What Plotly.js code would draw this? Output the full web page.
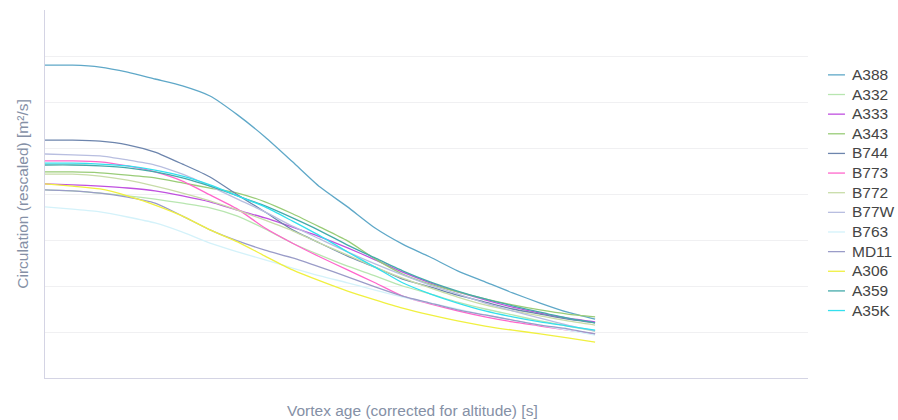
<!DOCTYPE html>
<html>
<head>
<meta charset="utf-8">
<script src="https://cdn.plot.ly/plotly-3.0.1.min.js"></script>
<style>html,body{margin:0;padding:0;background:#fff;}#chart{width:898px;height:420px;}</style>
</head>
<body>
<div id="chart"></div>
<script>
// Vortex age (corrected for altitude) [s]
const age = [0,5,10,15,20,25,30,35,40,45,50,55,60,65,70,75,80,85,90,95,100];

const seriesNames = ["A388","A332","A333","A343","B744","B773","B772","B77W","B763","MD11","A306","A359","A35K"];

const A388 = [6.80,6.80,6.76,6.65,6.50,6.35,6.13,5.72,5.24,4.70,4.15,3.72,3.26,2.91,2.63,2.33,2.09,1.85,1.63,1.43,1.28];
const A332 = [4.09,4.07,4.02,3.96,3.89,3.80,3.70,3.52,3.24,2.93,2.67,2.43,2.22,2.00,1.83,1.65,1.50,1.37,1.24,1.13,1.02];
const A333 = [4.22,4.20,4.17,4.13,4.07,3.96,3.83,3.65,3.48,3.28,3.07,2.83,2.57,2.30,2.07,1.87,1.70,1.54,1.41,1.30,1.22];
const A343 = [4.48,4.48,4.46,4.41,4.35,4.24,4.13,4.02,3.83,3.57,3.28,2.98,2.59,2.26,2.04,1.87,1.72,1.59,1.48,1.39,1.33];
const B744 = [5.17,5.17,5.15,5.07,4.91,4.65,4.37,3.98,3.61,3.22,2.93,2.65,2.41,2.15,1.98,1.80,1.65,1.50,1.39,1.28,1.20];
const B773 = [4.72,4.72,4.70,4.61,4.48,4.28,3.98,3.67,3.26,2.93,2.63,2.35,2.07,1.78,1.61,1.46,1.33,1.22,1.13,1.04,0.96];
const B772 = [4.43,4.43,4.39,4.30,4.17,4.02,3.85,3.65,3.43,3.20,2.93,2.67,2.41,2.17,1.96,1.76,1.59,1.46,1.35,1.24,1.15];
const B77W = [4.87,4.85,4.83,4.74,4.63,4.43,4.17,3.89,3.61,3.30,3.02,2.74,2.48,2.24,2.02,1.83,1.63,1.46,1.30,1.15,1.02];
const B763 = [3.72,3.67,3.61,3.50,3.37,3.17,2.93,2.74,2.57,2.39,2.22,2.07,1.91,1.76,1.63,1.50,1.37,1.26,1.15,1.04,0.93];
const MD11 = [4.09,4.07,4.02,3.93,3.80,3.52,3.22,2.98,2.78,2.61,2.41,2.20,1.98,1.78,1.63,1.48,1.37,1.26,1.15,1.07,0.96];
const A306 = [4.22,4.17,4.11,3.96,3.76,3.52,3.22,2.96,2.65,2.35,2.11,1.89,1.70,1.52,1.37,1.24,1.13,1.04,0.96,0.87,0.78];
const A359 = [4.63,4.63,4.61,4.57,4.48,4.35,4.17,3.96,3.74,3.48,3.20,2.89,2.61,2.33,2.09,1.89,1.72,1.57,1.43,1.30,1.20];
const A35K = [4.67,4.67,4.65,4.61,4.52,4.39,4.20,3.96,3.72,3.41,3.09,2.74,2.41,2.07,1.83,1.63,1.46,1.33,1.22,1.13,1.04];

const seriesValues = {A388,A332,A333,A343,B744,B773,B772,B77W,B763,MD11,A306,A359,A35K};
const colors = {
  A388:"#5fa8c8", A332:"#b8e6b0", A333:"#c050e0", A343:"#99cc77",
  B744:"#6d85ad", B773:"#ff66cc", B772:"#c8dca8", B77W:"#b8bee0",
  B763:"#d4f2fa", MD11:"#9a9cc8", A306:"#f0f040", A359:"#44aaaa", A35K:"#33e0ee"
};

const traces = seriesNames.map(n => ({
  x: age, y: seriesValues[n], name: n, type: "scatter", mode: "lines",
  line: {color: colors[n], width: 1.3, shape: "spline", smoothing: 0.6}
}));

const FONT = "Liberation Sans, Arial, sans-serif";
const TITLE_COLOR = "#8590a6";
const layout = {
  width: 898, height: 420,
  margin: {l: 45, r: 90, t: 10, b: 42, autoexpand: false},
  paper_bgcolor: "#ffffff", plot_bgcolor: "#ffffff",
  showlegend: true,
  legend: {x: 0.0052 + 1, xanchor: "left", y: 0.864, yanchor: "top",
           font: {family: FONT, size: 12.8, color: "#444444"},
           bgcolor: "rgba(0,0,0,0)"},
  xaxis: {
    range: [0, 138.7], showgrid: false, zeroline: false, showticklabels: false, ticks: "",
    showline: true, linecolor: "#d4d4e4", linewidth: 1
  },
  yaxis: {
    range: [0, 8], dtick: 1, showgrid: true, gridcolor: "#f0f0f2", zeroline: false,
    showticklabels: false, ticks: "",
    showline: true, linecolor: "#d4d4e4", linewidth: 1,
    title: {text: "Circulation (rescaled) [m²/s]", standoff: 11,
            font: {family: FONT, size: 15.5, color: TITLE_COLOR}}
  },
  annotations: [{
    text: "Vortex age (corrected for altitude) [s]",
    xref: "paper", yref: "paper", x: 0.4823, y: -0.087,
    xanchor: "center", yanchor: "middle", showarrow: false,
    font: {family: FONT, size: 15.5, color: TITLE_COLOR}
  }]
};

Plotly.newPlot("chart", traces, layout, {displayModeBar: false, staticPlot: true}).then(gd => {
  gd.querySelectorAll(".legend .legendtext").forEach(t => { t.style.fontSize = "15.5px"; });
  gd.querySelectorAll(".legend .legendlines path").forEach(p => { p.setAttribute("d", "M16,0h17"); });
  gd.querySelectorAll(".legend [clip-path]").forEach(el => el.removeAttribute("clip-path"));
  const lg = gd.querySelector(".legend");
  if (lg) lg.removeAttribute("clip-path");
});
</script>
</body>
</html>
